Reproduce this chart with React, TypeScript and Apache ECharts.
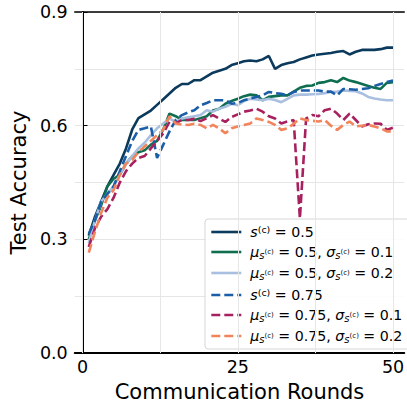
import React, { useEffect, useRef } from "react";
import * as echarts from "echarts";

const rounds: number[] = Array.from({ length: 50 }, (_, i) => i + 1);

const seriesNames = [
  "s(c) = 0.5",
  "mu s(c) = 0.5, sigma s(c) = 0.1",
  "mu s(c) = 0.5, sigma s(c) = 0.2",
  "s(c) = 0.75",
  "mu s(c) = 0.75, sigma s(c) = 0.1",
  "mu s(c) = 0.75, sigma s(c) = 0.2",
];

const s05 = [0.31,0.36,0.40,0.44,0.47,0.50,0.54,0.59,0.62,0.63,0.64,0.655,0.67,0.685,0.70,0.71,0.71,0.72,0.72,0.73,0.74,0.745,0.75,0.76,0.765,0.77,0.772,0.77,0.775,0.784,0.75,0.76,0.765,0.768,0.775,0.78,0.785,0.788,0.79,0.792,0.795,0.797,0.788,0.795,0.80,0.80,0.80,0.802,0.806,0.806];
const mu05s01 = [0.30,0.35,0.39,0.44,0.46,0.47,0.50,0.52,0.53,0.535,0.55,0.56,0.59,0.632,0.625,0.615,0.615,0.615,0.62,0.625,0.64,0.645,0.658,0.665,0.671,0.678,0.682,0.68,0.667,0.676,0.678,0.68,0.68,0.69,0.70,0.705,0.706,0.713,0.715,0.72,0.715,0.726,0.719,0.715,0.71,0.705,0.70,0.697,0.713,0.715];
const mu05s02 = [0.29,0.35,0.40,0.42,0.44,0.47,0.50,0.52,0.54,0.555,0.575,0.593,0.606,0.619,0.61,0.619,0.622,0.625,0.628,0.641,0.637,0.645,0.65,0.658,0.654,0.665,0.671,0.669,0.667,0.671,0.668,0.662,0.671,0.68,0.682,0.682,0.683,0.684,0.686,0.689,0.69,0.693,0.692,0.691,0.685,0.676,0.672,0.669,0.667,0.667];
const s075 = [0.315,0.35,0.40,0.42,0.44,0.48,0.52,0.56,0.589,0.593,0.598,0.515,0.55,0.585,0.615,0.628,0.635,0.641,0.654,0.66,0.667,0.667,0.667,0.658,0.66,0.667,0.672,0.676,0.68,0.689,0.686,0.684,0.68,0.689,0.693,0.693,0.693,0.693,0.69,0.69,0.68,0.697,0.696,0.695,0.697,0.699,0.705,0.71,0.715,0.719];
const mu075s01 = [0.28,0.33,0.36,0.38,0.41,0.45,0.48,0.50,0.515,0.52,0.54,0.56,0.58,0.61,0.607,0.615,0.615,0.618,0.612,0.62,0.628,0.619,0.61,0.623,0.63,0.637,0.64,0.645,0.637,0.625,0.619,0.606,0.611,0.615,0.355,0.619,0.628,0.625,0.641,0.645,0.632,0.615,0.632,0.615,0.598,0.604,0.606,0.605,0.589,0.595];
const mu075s02 = [0.265,0.32,0.37,0.41,0.43,0.47,0.50,0.51,0.53,0.545,0.56,0.575,0.59,0.625,0.606,0.603,0.602,0.605,0.602,0.593,0.602,0.593,0.58,0.593,0.598,0.602,0.606,0.619,0.615,0.61,0.602,0.589,0.593,0.605,0.619,0.615,0.613,0.611,0.615,0.60,0.589,0.602,0.611,0.598,0.60,0.602,0.598,0.593,0.585,0.585];

const allValues = [s05, mu05s01, mu05s02, s075, mu075s01, mu075s02];
const colors = ["#0b3a5c", "#0f6e50", "#a9bfe0", "#1b5ea8", "#a8215f", "#f2845c"];
const dashed = [false, false, false, true, true, true];

const xLabelValues = [0, 25, 50];
const xGridValues = [0, 12.5, 25, 37.5, 50];

const legendRich: Record<string, string> = {
  [seriesNames[0]]: "{it|s}{sup|(c)}{n| = 0.5}",
  [seriesNames[1]]: "{it|μ}{sub|s}{subsup|(c)}{n| = 0.5, }{it|σ}{sub|s}{subsup|(c)}{n| = 0.1}",
  [seriesNames[2]]: "{it|μ}{sub|s}{subsup|(c)}{n| = 0.5, }{it|σ}{sub|s}{subsup|(c)}{n| = 0.2}",
  [seriesNames[3]]: "{it|s}{sup|(c)}{n| = 0.75}",
  [seriesNames[4]]: "{it|μ}{sub|s}{subsup|(c)}{n| = 0.75, }{it|σ}{sub|s}{subsup|(c)}{n| = 0.1}",
  [seriesNames[5]]: "{it|μ}{sub|s}{subsup|(c)}{n| = 0.75, }{it|σ}{sub|s}{subsup|(c)}{n| = 0.2}",
};

const FONT = "DejaVu Sans";
const X_MIN = -1.26;
const X_MAX = 51.81;

export default function App() {
  const ref = useRef<HTMLDivElement>(null);
  useEffect(() => {
    if (!ref.current) return;
    const chart = echarts.init(ref.current, undefined, { renderer: "svg" });
    const series: any[] = allValues.map((vals, i) => ({
      name: seriesNames[i],
      type: "line",
      data: rounds.map((r, j) => [r, vals[j]]),
      showSymbol: false,
      symbol: "none",
      lineStyle: {
        color: colors[i],
        width: 2.6,
        type: dashed[i] ? [9, 4] : "solid",
      },
      itemStyle: { color: colors[i] },
      z: 3,
    }));
    series.push({
      name: "grid",
      type: "line",
      data: [],
      silent: true,
      z: 1,
      markLine: {
        silent: true,
        symbol: "none",
        label: { show: false },
        lineStyle: { color: "#e6e6e6", width: 1, type: "solid" },
        data: xGridValues.map((v) => ({ xAxis: v })),
      },
    });
    chart.setOption({
      animation: false,
      backgroundColor: "#ffffff",
      grid: {
        left: 70,
        top: 12,
        right: 0,
        bottom: 49,
        show: false,
      },
      xAxis: [
        {
          type: "value",
          min: X_MIN,
          max: X_MAX,
          name: "Communication Rounds",
          nameLocation: "middle",
          nameGap: 27,
          nameTextStyle: { fontFamily: FONT, fontSize: 21, color: "#000", verticalAlign: "top" },
          axisLine: { show: true, onZero: false, lineStyle: { color: "#000", width: 2 } },
          axisTick: { show: true, inside: true, length: 5, customValues: xLabelValues, lineStyle: { color: "#000", width: 1 } },
          axisLabel: { customValues: xLabelValues, fontFamily: FONT, fontSize: 17.5, color: "#000", margin: 5 },
          splitLine: { show: false },
        },
        {
          type: "value",
          position: "top",
          min: X_MIN,
          max: X_MAX,
          axisLine: { show: true, onZero: false, lineStyle: { color: "#000", width: 1.5 } },
          axisTick: { show: false },
          axisLabel: { show: false },
          splitLine: { show: false },
        },
      ],
      yAxis: {
        type: "value",
        min: 0,
        max: 0.9,
        interval: 0.3,
        name: "Test Accuracy",
        nameLocation: "middle",
        nameGap: 42,
        nameTextStyle: { fontFamily: FONT, fontSize: 21, color: "#000" },
        axisLine: { show: true, lineStyle: { color: "#000", width: 2 } },
        axisTick: { show: true, inside: true, length: 5, lineStyle: { color: "#000", width: 1 } },
        axisLabel: {
          fontFamily: FONT,
          fontSize: 17.5,
          color: "#000",
          margin: 7,
          formatter: (v: number) => v.toFixed(1),
        },
        splitLine: { show: true, lineStyle: { color: "#e6e6e6", width: 1 } },
        minorTick: { show: false, splitNumber: 2 },
        minorSplitLine: { show: true, lineStyle: { color: "#e6e6e6", width: 1 } },
      },
      legend: {
        data: seriesNames.map((n) => ({ name: n })),
        orient: "vertical",
        left: 205,
        top: 219,
        itemWidth: 30,
        itemHeight: 10,
        itemGap: 6,
        padding: [5, 8, 5, 5],
        backgroundColor: "rgba(255,255,255,0.85)",
        borderColor: "#d6d6d6",
        borderWidth: 1,
        borderRadius: 3,
        itemStyle: { opacity: 0 },
        lineStyle: { width: 2.6 },
        formatter: (name: string) => legendRich[name] || name,
        textStyle: {
          fontFamily: FONT,
          fontSize: 14.2,
          color: "#000",
          padding: [0, 0, 0, 4],
          rich: {
            n: { fontFamily: FONT, fontSize: 14.2, color: "#000", lineHeight: 16 },
            it: { fontFamily: FONT, fontSize: 14.2, fontStyle: "italic", color: "#000", lineHeight: 16 },
            sup: { fontFamily: FONT, fontSize: 9.5, color: "#000", verticalAlign: "top", lineHeight: 16 },
            sub: { fontFamily: FONT, fontSize: 10, fontStyle: "italic", color: "#000", verticalAlign: "bottom", lineHeight: 16 },
            subsup: { fontFamily: FONT, fontSize: 7, color: "#000", verticalAlign: "middle", lineHeight: 16 },
          },
        },
      },
      series,
    });
    return () => chart.dispose();
  }, []);
  return (
    <div
      ref={ref}
      style={{ position: "fixed", left: 0, top: 0, width: 407, height: 407 }}
    />
  );
}
